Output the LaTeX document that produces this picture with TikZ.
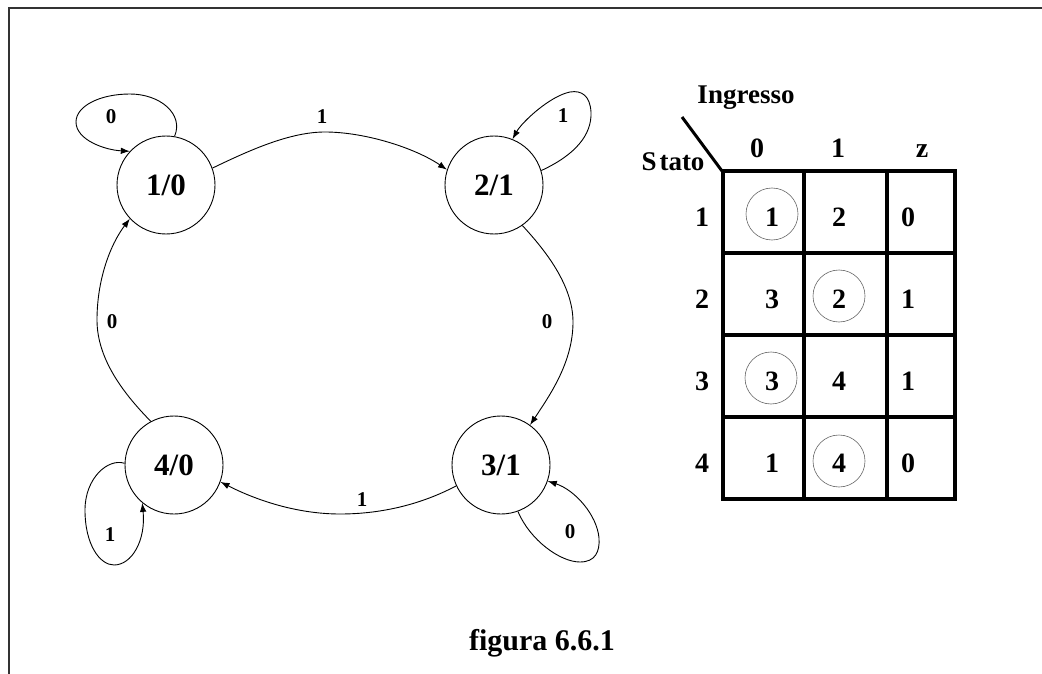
\documentclass[tikz,border=0pt]{standalone}
\usepackage{fontspec}
\setmainfont{Liberation Serif}
\usetikzlibrary{arrows.meta}
\newcommand\bsz[1]{\fontsize{#1}{#1}\selectfont\bfseries}
\tikzset{
  state/.style={circle, draw, line width=0.9pt, minimum size=98pt, inner sep=0pt, font=\bsz{31}},
  trans/.style={line width=0.9pt, -{Latex[length=9pt,width=6.5pt]}},
  elabel/.style={font=\bsz{21}, inner sep=0pt},
  frame/.style={line width=1.4pt, draw=black!80},
  grid/.style={line width=3.6pt, line cap=rect},
  cell/.style={font=\bsz{28}, anchor=base, inner sep=0pt},
  head/.style={font=\bsz{28}, anchor=base, inner sep=0pt},
  stablering/.style={circle, draw=black!60, line width=0.6pt, minimum size=52pt, inner sep=0pt},
}
\begin{document}
\begin{tikzpicture}[x=1pt, y=-1pt]
\useasboundingbox (0,0) rectangle (1042,674);

% page frame
\draw[frame] (9,674) -- (9,8) -- (1042,8);

% states
\node[state] (s1) at (166,185) {1/0};
\node[state] (s2) at (494,185) {2/1};
\node[state] (s3) at (501,465) {3/1};
\node[state] (s4) at (174,465) {4/0};

% transitions between states
\draw[trans] (s1.20) .. controls (250,150) and (290,132) .. (325,132)
  .. controls (365,132) and (415,148) .. (s2.162);
\draw[trans] (s2.-55) .. controls (545,250) and (573,285) .. (573,322)
  .. controls (573,362) and (550,395) .. (s3.54);
\draw[trans] (s3.205) .. controls (420,505) and (380,514) .. (340,514)
  .. controls (300,514) and (260,502) .. (s4.-20);
\draw[trans] (s4.118) .. controls (125,395) and (97,360) .. (97,320)
  .. controls (97,280) and (110,245) .. (s1.223);

% self loops
\draw[trans] (s1.80) .. controls (184,114) and (160,94) .. (130,94)
  .. controls (100,94) and (76,106) .. (76,122)
  .. controls (76,140) and (105,150) .. (s1.137);
\draw[trans] (s2.17) .. controls (575,155) and (592,135) .. (591,112)
  .. controls (590,96) and (582,90) .. (570,92)
  .. controls (550,96) and (522,122) .. (s2.68);
\draw[trans] (s4.178) .. controls (108,458) and (85,478) .. (85,510)
  .. controls (85,545) and (100,565) .. (114,565)
  .. controls (132,565) and (146,540) .. (s4.230);
\draw[trans] (s3.-70) .. controls (530,540) and (560,562) .. (580,562)
  .. controls (595,562) and (600,552) .. (599,538)
  .. controls (597,515) and (575,490) .. (s3.-19);

% transition labels
\node[elabel] (l12) at (322,117) {1};
\node[elabel] (l23) at (547,322) {0};
\node[elabel] (l34) at (362,500) {1};
\node[elabel] (l41) at (112,322) {0};
\node[elabel] (l11) at (111,117) {0};
\node[elabel] (l22) at (563,116) {1};
\node[elabel] (l44) at (110,535) {1};
\node[elabel] (l33) at (570,532) {0};

% state table
\node[font=\bsz{27}, anchor=base, inner sep=0pt] (ing) at (746,104) {Ingresso};
\node[font=\bsz{27}, anchor=base, inner sep=0pt] (sta) at (673,171) {S\kern3pt tato};
\draw[line width=3pt] (682,117) -- (722,171);

\node[head] (h0) at (757,158) {0};
\node[head] (h1) at (838,158) {1};
\node[head] (hz) at (922,158) {z};

\draw[grid] (723,171) -- (955,171);
\draw[grid] (723,253) -- (955,253);
\draw[grid] (723,335) -- (955,335);
\draw[grid] (723,417) -- (955,417);
\draw[grid] (723,499) -- (955,499);
\draw[grid] (723,171) -- (723,499);
\draw[grid] (804,171) -- (804,499);
\draw[grid] (887,171) -- (887,499);
\draw[grid] (955,171) -- (955,499);

% row labels
\node[cell] (r1) at (702,226) {1};
\node[cell] (r2) at (702,308) {2};
\node[cell] (r3) at (702,390) {3};
\node[cell] (r4) at (702,472) {4};

% next states and outputs
\node[cell] (a10) at (772,226) {1};
\node[cell] (a11) at (839,226) {2};
\node[cell] (a1z) at (908,226) {0};
\node[cell] (a20) at (772,308) {3};
\node[cell] (a21) at (839,308) {2};
\node[cell] (a2z) at (908,308) {1};
\node[cell] (a30) at (772,390) {3};
\node[cell] (a31) at (839,390) {4};
\node[cell] (a3z) at (908,390) {1};
\node[cell] (a40) at (772,472) {1};
\node[cell] (a41) at (839,472) {4};
\node[cell] (a4z) at (908,472) {0};

% stable states
\node[stablering] (m1) at (772,214) {};
\node[stablering] (m2) at (839,296) {};
\node[stablering] (m3) at (771,378) {};
\node[stablering] (m4) at (839,461) {};

% caption
\node[font=\bsz{30}, anchor=base, inner sep=0pt] (cap) at (542,650) {figura 6.6.1};
\end{tikzpicture}
\end{document}
